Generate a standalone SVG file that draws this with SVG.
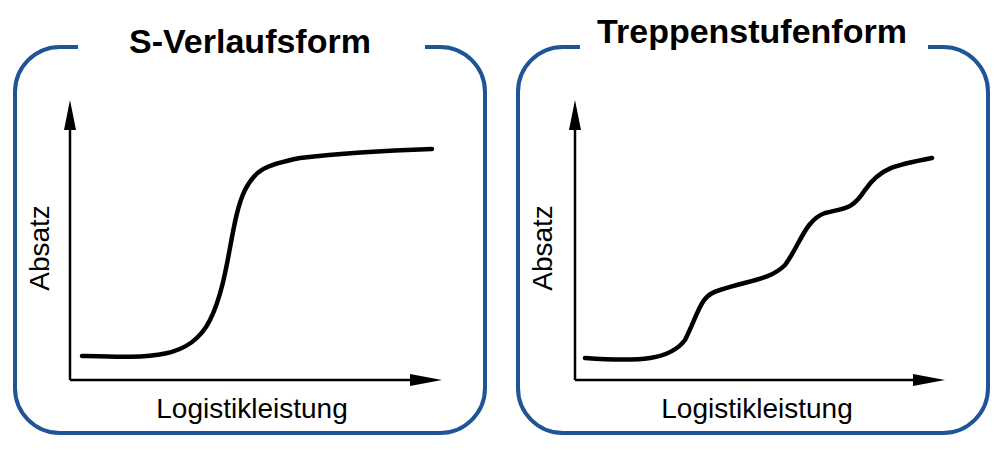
<svg xmlns="http://www.w3.org/2000/svg" width="1003" height="453" viewBox="0 0 1003 453">
<defs>
<style>
.frame{fill:none;stroke:#1f5596;stroke-width:4}
.ax{stroke:#000;stroke-width:2.5;fill:none}
.cv{stroke:#000;stroke-width:4.5;fill:none;stroke-linecap:round}
.t{font-family:"Liberation Sans",Arial,sans-serif;font-weight:bold;font-size:34px;text-anchor:middle}
.l{font-family:"Liberation Sans",Arial,sans-serif;font-size:28px;text-anchor:middle}
</style>
</defs>
<rect width="1003" height="453" fill="#fff"/>
<g id="left">
<path class="frame" d="M78,47 H60 A45,45 0 0 0 15,92 V388 A45,45 0 0 0 60,433 H440 A45,45 0 0 0 485,388 V92 A45,45 0 0 0 440,47 H425"/>
<text class="t" x="250" y="53">S-Verlaufsform</text>
<text class="l" transform="translate(49,248) rotate(-90)">Absatz</text>
<text class="l" x="252" y="418">Logistikleistung</text>
</g>
<g id="right">
<path class="frame" d="M580,47 H563 A45,45 0 0 0 518,92 V388 A45,45 0 0 0 563,433 H943 A45,45 0 0 0 988,388 V92 A45,45 0 0 0 943,47 H928"/>
<text class="t" x="752" y="43">Treppenstufenform</text>
<text class="l" transform="translate(552,248) rotate(-90)">Absatz</text>
<text class="l" x="757" y="418">Logistikleistung</text>
</g>
<g id="connectors">
<path class="ax" d="M70,380 V128"/><path d="M64,130 L70,100 L76,130 Z"/>
<path class="ax" d="M70,380 H412"/><path d="M410,374 L442,380 L410,386 Z"/>
<path class="ax" d="M575,380 V128"/><path d="M569,130 L575,100 L581,130 Z"/>
<path class="ax" d="M575,380 H915"/><path d="M913,374 L945,380 L913,386 Z"/>
<path class="cv" d="M82,356 C150,358 190,360 210,320 C230,280 230,220 245,190 C255,170 265,165 300,158 C350,152 400,150 432,149"/>
<path class="cv" d="M585,358 C640,362 670,360 685,340 C700,310 700,295 720,290 C750,280 770,280 785,265 C800,245 805,220 825,213 C845,208 852,210 865,190 C880,168 895,165 932,158"/>
</g>
</svg>
